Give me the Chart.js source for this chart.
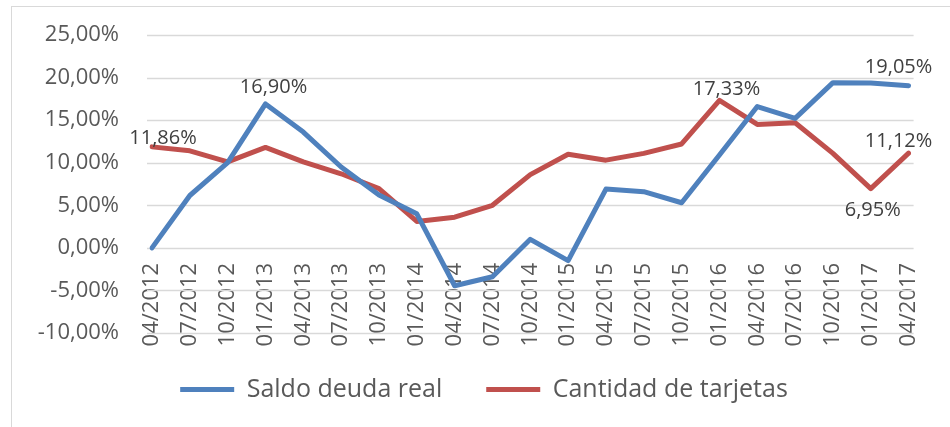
<!DOCTYPE html>
<html>
<head>
<meta charset="utf-8">
<script src="https://cdn.jsdelivr.net/npm/chart.js@4/dist/chart.umd.min.js"></script>
<style>
  body { margin: 0; background: #fff; }
  #frame { position: absolute; left: 11px; top: 6px; width: 960px; height: 440px; border: 1px solid #d9d9d9; }
  #wrap { position: absolute; left: 0; top: 0; width: 950px; height: 427px; }
</style>
</head>
<body>
<div id="frame"></div>
<div id="wrap"><canvas id="chart" width="950" height="427"></canvas></div>
<script>
// quarterly periods on the x axis
const categories = ['04/2012','07/2012','10/2012','01/2013','04/2013','07/2013','10/2013',
  '01/2014','04/2014','07/2014','10/2014','01/2015','04/2015','07/2015','10/2015',
  '01/2016','04/2016','07/2016','10/2016','01/2017','04/2017'];

// values in percent
const saldoDeuda = [0.00, 6.15, 10.00, 16.90, 13.60, 9.50, 6.20, 4.00, -4.45, -3.40, 1.00,
  -1.50, 6.90, 6.60, 5.30, 10.90, 16.60, 15.20, 19.40, 19.35, 19.05];
const cantidadTarjetas = [11.86, 11.40, 10.10, 11.80, 10.10, 8.70, 6.95, 3.10, 3.60, 5.00, 8.60,
  11.00, 10.30, 11.10, 12.20, 17.33, 14.50, 14.70, 11.10, 6.95, 11.12];

const yTicks = [-10, -5, 0, 5, 10, 15, 20, 25];

// which points get a value label (dataset, index) and the nudge from the point
const labelSpots = [
  { ds: 0, i: 3,  dx: 8,   dy: -11 },
  { ds: 0, i: 20, dx: -10, dy: -13 },
  { ds: 1, i: 0,  dx: 11,  dy: -3 },
  { ds: 1, i: 15, dx: 7,   dy: -5 },
  { ds: 1, i: 19, dx: 2,   dy: 27 },
  { ds: 1, i: 20, dx: -10, dy: -6 }
];

const fmt = v => v.toFixed(2).replace('.', ',') + '%';
const FONT = "'Open Sans', sans-serif";

// — horizontal gridlines a bit wider than the plot, like Excel draws them —
const gridPlugin = {
  id: 'grid',
  beforeDatasetsDraw(chart) {
    const { ctx, chartArea, scales } = chart;
    ctx.save();
    ctx.strokeStyle = '#d9d9d9';
    ctx.lineWidth = 1.5;
    yTicks.forEach(t => {
      const y = Math.round(scales.y.getPixelForValue(t)) + 0.5;
      ctx.beginPath();
      ctx.moveTo(chartArea.left - 5, y);
      ctx.lineTo(chartArea.right + 5, y);
      ctx.stroke();
    });
    ctx.restore();
  }
};

// — nudge the legend sideways to where Excel had it —
const legendShift = {
  id: 'legendShift',
  afterLayout(chart) {
    const lg = chart.legend;
    lg.left += 24; lg.right += 24;
  }
};

// — value labels —
const labelPlugin = {
  id: 'valueLabels',
  afterDatasetsDraw(chart) {
    const { ctx } = chart;
    ctx.save();
    ctx.font = '20px ' + FONT;
    ctx.fillStyle = '#404040';
    ctx.textAlign = 'center';
    ctx.textBaseline = 'alphabetic';
    labelSpots.forEach(s => {
      const pt = chart.getDatasetMeta(s.ds).data[s.i];
      const v = chart.data.datasets[s.ds].data[s.i];
      ctx.fillText(fmt(v), pt.x + s.dx, pt.y + s.dy);
    });
    ctx.restore();
  }
};

new Chart(document.getElementById('chart'), {
  type: 'line',
  data: {
    labels: categories,
    datasets: [
      { label: 'Saldo deuda real', data: saldoDeuda, borderColor: '#4f81bd', backgroundColor: '#4f81bd',
        borderWidth: 5, pointRadius: 0, tension: 0, borderCapStyle: 'round', borderJoinStyle: 'round' },
      { label: 'Cantidad de tarjetas', data: cantidadTarjetas, borderColor: '#c0504d', backgroundColor: '#c0504d',
        borderWidth: 5, pointRadius: 0, tension: 0, borderCapStyle: 'round', borderJoinStyle: 'round' }
    ]
  },
  options: {
    responsive: false,
    animation: false,
    devicePixelRatio: 1,
    layout: { padding: { top: 35, right: 30, bottom: 15, left: 0 } },
    scales: {
      x: {
        position: { y: 0 },
        offset: false,
        grid: { display: false, drawTicks: false },
        border: { display: false },
        ticks: { autoSkip: false, minRotation: 90, maxRotation: 90, padding: 15,
                 color: '#595959', font: { family: FONT, size: 22 } }
      },
      y: {
        min: -10, max: 25,
        afterFit: s => { s.width = 152; s.paddingTop = 10; s.paddingBottom = 10; },
        afterBuildTicks: s => { s.ticks = yTicks.map(v => ({ value: v })); },
        grid: { display: false, drawTicks: false },
        border: { display: false },
        ticks: { padding: 33, color: '#595959', font: { family: FONT, size: 22 },
                 callback: v => fmt(v) }
      }
    },
    plugins: {
      tooltip: { enabled: false },
      legend: {
        position: 'bottom',
        labels: { usePointStyle: true, pointStyle: 'line', pointStyleWidth: 54, padding: 44,
                  color: '#595959', font: { family: FONT, size: 25 } }
      }
    }
  },
  plugins: [gridPlugin, legendShift, labelPlugin]
});
</script>
</body>
</html>
